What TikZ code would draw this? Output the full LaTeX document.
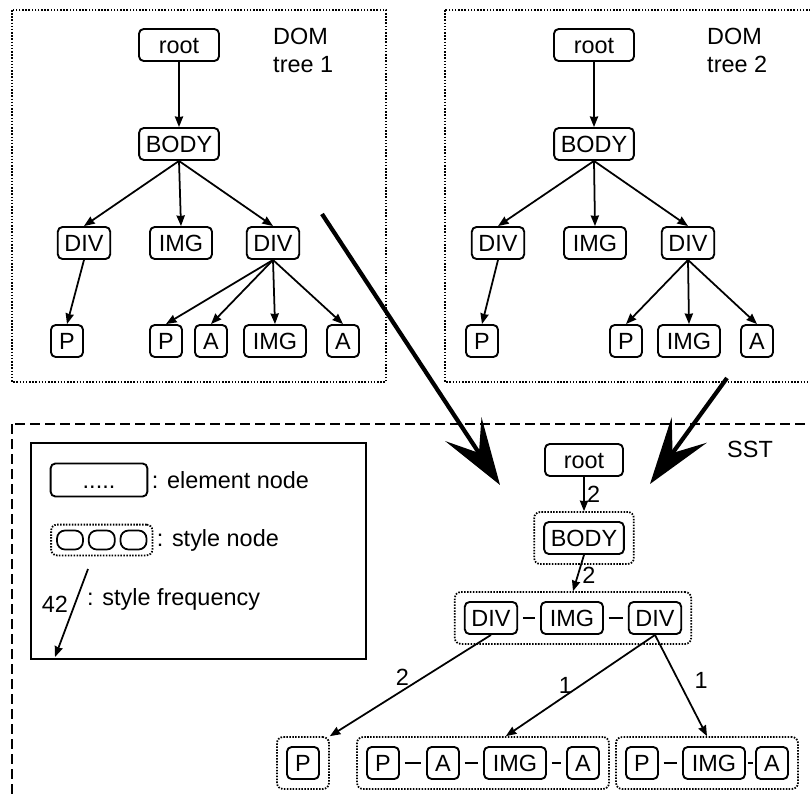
\documentclass[tikz,border=0pt]{standalone}
\usepackage{fontspec}
\setmainfont{Liberation Sans}
\usetikzlibrary{arrows.meta,positioning,fit,calc}

\begin{document}
\begin{tikzpicture}[x=0.03cm, y=-0.03cm,
  font=\fontsize{20}{24}\selectfont,
  elem/.style={draw, line width=1.6pt, rounded corners=4pt, minimum height=0.96cm, minimum width=0.96cm, inner xsep=0.2cm, inner ysep=0pt, text height=14pt, text depth=0pt},
  imgw/.style={minimum width=1.86cm},
  stylebox/.style={draw, line width=1.5pt, dash pattern=on 1.3pt off 1.2pt, rounded corners=5pt, inner sep=0.27cm},
  treebox/.style={draw, line width=1.5pt, dash pattern=on 1.3pt off 1.4pt},
  sstbox/.style={draw, line width=1.4pt, dash pattern=on 0.3cm off 0.15cm},
  arr/.style={-{Stealth[length=9pt, width=7pt, inset=0.5pt]}, line width=1.5pt},
  bigarr/.style={-{Stealth[length=2cm, width=1.3cm, inset=0.85cm]}, line width=3.6pt},
  link/.style={line width=1.5pt, shorten <=4pt, shorten >=4pt},
  freq/.style={inner sep=1pt},
  lbl/.style={inner sep=0pt, align=left}
]
  \useasboundingbox (0,0) rectangle (810,794);

  % frames
  \draw[treebox] (12,10) rectangle (386,382);
  \draw[treebox] (445,10) rectangle (830,382);
  \draw[sstbox] (12,424) rectangle (830,820);
  \node[lbl, anchor=west] (dom1) at (273,50) {DOM\\tree 1};
  \node[lbl, anchor=west] (dom2) at (707,50) {DOM\\tree 2};
  \node[lbl, anchor=west] (sstlab) at (727,449) {SST};

  % DOM tree 1
  \node[elem, minimum width=2.4cm] (r1) at (179,45) {root};
  \node[elem] (b1) at (179,144) {BODY};
  \node[elem] (d1a) at (84,243) {DIV};
  \node[elem, imgw] (i1a) at (181,243) {IMG};
  \node[elem] (d1b) at (273,243) {DIV};
  \node[elem] (p1a) at (67,341) {P};
  \node[elem] (p1b) at (166,341) {P};
  \node[elem] (a1a) at (211,341) {A};
  \node[elem, imgw] (i1b) at (275,341) {IMG};
  \node[elem] (a1b) at (343,341) {A};

  \draw[arr] (r1) -- (b1);
  \foreach \c in {d1a,i1a,d1b}
    \draw[arr] (b1.south) -- (\c.north);
  \draw[arr] (d1a.south) -- (p1a.north);
  \foreach \c in {p1b,a1a,i1b,a1b}
    \draw[arr] (d1b.south) -- (\c.north);

  % DOM tree 2
  \node[elem, minimum width=2.4cm] (r2) at (594,45) {root};
  \node[elem] (b2) at (594,144) {BODY};
  \node[elem] (d2a) at (498,243) {DIV};
  \node[elem, imgw] (i2a) at (595,243) {IMG};
  \node[elem] (d2b) at (688,243) {DIV};
  \node[elem] (p2a) at (482,341) {P};
  \node[elem] (p2b) at (626,341) {P};
  \node[elem, imgw] (i2b) at (689,341) {IMG};
  \node[elem] (a2) at (757,341) {A};

  \draw[arr] (r2) -- (b2);
  \foreach \c in {d2a,i2a,d2b}
    \draw[arr] (b2.south) -- (\c.north);
  \draw[arr] (d2a.south) -- (p2a.north);
  \foreach \c in {p2b,i2b,a2}
    \draw[arr] (d2b.south) -- (\c.north);

  % SST
  \node[elem, minimum width=2.34cm] (sroot) at (584,460) {root};
  \node[elem] (sbody) at (584,538) {BODY};
  \node[stylebox, fit=(sbody)] (sbodyst) {};
  \node[elem] (sdiv1) at (491,618) {DIV};
  \node[elem, imgw] (simg) at (572,618) {IMG};
  \node[elem] (sdiv2) at (655,618) {DIV};
  \node[stylebox, fit=(sdiv1)(sdiv2)] (slev2) {};
  \draw[link] (sdiv1) -- (simg);
  \draw[link] (simg) -- (sdiv2);

  \node[elem] (sp1) at (303,763) {P};
  \node[stylebox, fit=(sp1)] (sst1) {};

  \node[elem] (sp2) at (383,763) {P};
  \node[elem] (sa2) at (443,763) {A};
  \node[elem, imgw] (simg2) at (515,763) {IMG};
  \node[elem] (sa2b) at (583,763) {A};
  \node[stylebox, fit=(sp2)(sa2b)] (sst2) {};
  \draw[link] (sp2) -- (sa2);
  \draw[link] (sa2) -- (simg2);
  \draw[link] (simg2) -- (sa2b);

  \node[elem] (sp3) at (642,763) {P};
  \node[elem, imgw] (simg3) at (714,763) {IMG};
  \node[elem] (sa3) at (772,763) {A};
  \node[stylebox, fit=(sp3)(sa3)] (sst3) {};
  \draw[link] (sp3) -- (simg3);
  \draw[link, shorten <=1.5pt, shorten >=1.5pt] (simg3) -- (sa3);

  \draw[arr] (sroot) -- (sbodyst) node[freq, midway, right=1pt] {2};
  \draw[arr] (sbody.south) -- (slev2.north) node[freq, pos=0.55, right=2pt] {2};
  \draw[arr] (sdiv1.south) -- (sst1.north east) node[freq, pos=0.55, above=3pt] {2};
  \draw[arr] (sdiv2.south) -- ($(sst2.north)!0.18!(sst2.north east)$) node[freq, pos=0.6, above] {1};
  \draw[arr] (sdiv2.south) -- (sst3.north) node[freq, pos=0.45, right=12pt] {1};

  % legend
  \draw[line width=1.5pt] (31,443) rectangle (366,659);
  \node[elem, minimum width=2.9cm, minimum height=0.99cm] (legelem) at (99,480) {.....};
  \node[lbl, right=0.1cm of legelem] (legelemtxt) {: element node};
  \node[draw, line width=1.5pt, rounded corners=0.24cm, minimum width=0.78cm, minimum height=0.57cm, inner sep=0pt] (legs1) at (70,540) {};
  \node[draw, line width=1.5pt, rounded corners=0.24cm, minimum width=0.78cm, minimum height=0.57cm, inner sep=0pt, right=0.12cm of legs1] (legs2) {};
  \node[draw, line width=1.5pt, rounded corners=0.24cm, minimum width=0.78cm, minimum height=0.57cm, inner sep=0pt, right=0.12cm of legs2] (legs3) {};
  \node[stylebox, fit=(legs1)(legs3), inner sep=0.15cm] (legst) {};
  \node[lbl, right=0.1cm of legst] (legsttxt) {: style node};
  \coordinate (legfa) at (88,569);
  \coordinate (legfb) at (55,657);
  \draw[arr] (legfa) -- (legfb);
  \node[lbl, anchor=base] (legnum) at (55,612) {42};
  \node[lbl, anchor=base west] (legfreq) at (87,605) {: style frequency};

  % merge arrows
  \coordinate (mergeAa) at (322,214);
  \coordinate (mergeAb) at (500,485);
  \coordinate (mergeBa) at (727,378);
  \coordinate (mergeBb) at (650,484);
  \draw[bigarr] (mergeAa) -- (mergeAb);
  \draw[bigarr] (mergeBa) -- (mergeBb);
\end{tikzpicture}
\end{document}
